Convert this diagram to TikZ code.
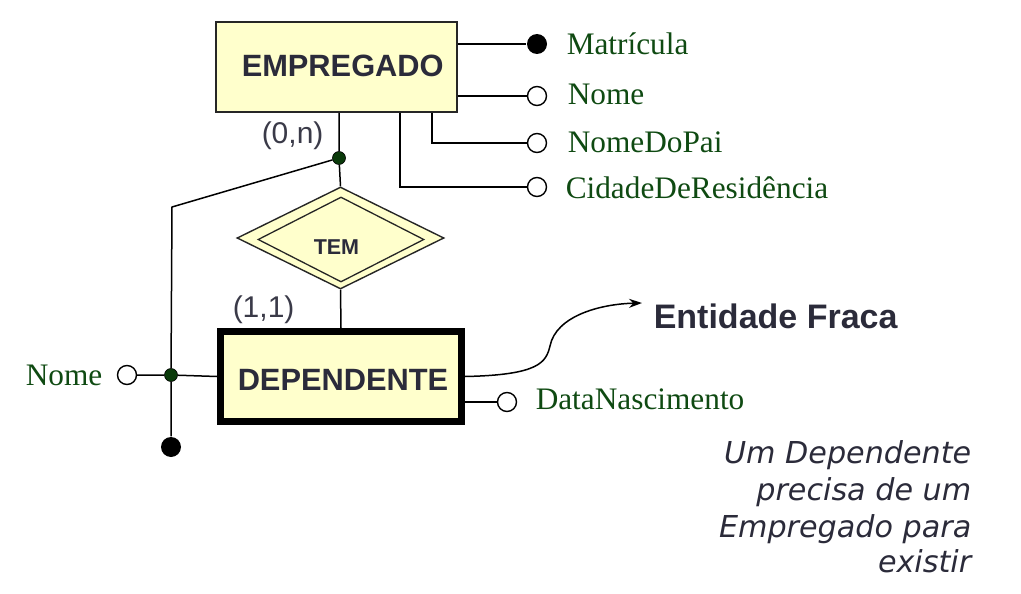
\documentclass[tikz,border=0pt]{standalone}
\usepackage{fontspec}
\setmainfont{Liberation Serif}
\newfontfamily\arialf{Liberation Sans}
\newfontfamily\notef{DejaVu Sans}
\usetikzlibrary{shapes.geometric,arrows.meta}
\definecolor{boxfill}{HTML}{FFFFCC}
\definecolor{attrgreen}{HTML}{0F4A12}
\definecolor{inkdark}{HTML}{2B2B3A}
\definecolor{dotgreen}{HTML}{0A3A0A}
\definecolor{cardgray}{HTML}{3A3A48}
\begin{document}
\begin{tikzpicture}[x=1pt,y=-1pt,line width=1.5pt,
  entbox/.style={draw=black!85,fill=boxfill,rectangle,inner sep=0pt,line width=1.6pt},
  relshape/.style={draw=black!85,fill=boxfill,diamond,inner sep=0pt,line width=1.4pt},
  bigsans/.style={font=\arialf\bfseries\fontsize{30.8}{32}\selectfont,text=inkdark,inner sep=0pt,anchor=base west},
  card/.style={font=\arialf\fontsize{30}{32}\selectfont,text=cardgray,inner sep=0pt,anchor=base west},
  attrtext/.style={font=\fontsize{31.3}{33}\selectfont,text=attrgreen,inner sep=0pt,anchor=base west},
  attropen/.style={circle,draw=black,fill=white,minimum size=19pt,inner sep=0pt,line width=1.4pt},
  attrkey/.style={circle,fill=black,minimum size=20pt,inner sep=0pt},
  jdot/.style={circle,fill=dotgreen,draw=black,line width=0.6pt,minimum size=13pt,inner sep=0pt},
  notetext/.style={font=\notef\itshape\fontsize{30.2}{32}\selectfont,text=inkdark,inner sep=0pt,anchor=base east}]
\useasboundingbox (0,0) rectangle (1021,594);

% Entities
\node[entbox,minimum width=241pt,minimum height=90pt] (emp) at (336.5,67) {};
\node[bigsans] (empt) at (241,77) {EMPREGADO};
\node[entbox,line width=7pt,draw=black,minimum width=241pt,minimum height=90pt] (dep) at (341,376.5) {};
\node[bigsans] (dept) at (237,390) {DEPENDENTE};

% Relationship
\node[relshape,minimum width=207pt,minimum height=102pt] (tem) at (340.5,238) {};
\node[relshape,line width=1.3pt,minimum width=166pt,minimum height=85pt] (temin) at (341,239.5) {};
\node[font=\arialf\bfseries\fontsize{21.5}{22}\selectfont,text=inkdark,inner sep=0pt,anchor=base west] (temt) at (313,254) {TEM};

% Cardinalities
\node[card] (c0n) at (261,143) {(0,n)};
\node[card] (c11) at (232,317) {(1,1)};

% Junctions
\node[jdot] (jd) at (339,158) {};
\coordinate (lt) at (172,207);
\node[jdot] (jn) at (171,375) {};
\node[circle,fill=black,minimum size=20pt,inner sep=0pt] (bd) at (171,447) {};

\draw (emp.south -| jd) -- (jd) -- (tem.north);
\draw (jd) -- (lt) -- (jn) -- (bd);
\draw (tem.south) -- (dep.north);

% Left attribute of DEPENDENTE
\node[attropen] (nml) at (127,375) {};
\node[attrtext,anchor=base east] (nmlt) at (103,385) {Nome};
\draw (nml) -- (jn) -- (dep.west);

% EMPREGADO attributes
\node[attrkey] (mat) at (537,44) {};
\node[attropen] (nm) at (537,96) {};
\node[attropen] (ndp) at (537,143) {};
\node[attropen] (cid) at (537,187) {};
\node[attrtext] (matt) at (566,55) {Matrícula};
\node[attrtext] (nmt) at (567,105) {Nome};
\node[attrtext] (ndpt) at (567,152) {NomeDoPai};
\node[attrtext] (cidt) at (565,198) {CidadeDeResidência};
\draw (emp.east |- mat) -- (mat);
\draw (emp.east |- nm) -- (nm);
\coordinate (k1) at (432,143);
\coordinate (k2) at (400,187);
\draw (emp.south -| k1) -- (k1) -- (ndp);
\draw (emp.south -| k2) -- (k2) -- (cid);

% DEPENDENTE attribute
\node[attropen] (dn) at (507,402) {};
\node[attrtext] (dnt) at (535,409) {DataNascimento};
\draw (dep.east |- dn) -- (dn);

% Weak entity annotation
\node[font=\arialf\bfseries\fontsize{34}{36}\selectfont,text=inkdark,inner sep=0pt,anchor=base west] (ef) at (653,328) {Entidade Fraca};
\coordinate (eftip) at (642,303);
\coordinate (efmid) at (550,346);
\draw[-{Stealth[length=13pt,width=9pt]}] (dep.east) .. controls (540,375) and (546,362) .. (efmid) .. controls (556,316) and (600,304) .. (eftip);

% Note
\node[notetext] (n1) at (972,463) {Um Dependente};
\node[notetext] (n2) at (972,500) {precisa de um};
\node[notetext] (n3) at (972,537) {Empregado para};
\node[notetext] (n4) at (972,572) {existir};
\end{tikzpicture}
\end{document}
